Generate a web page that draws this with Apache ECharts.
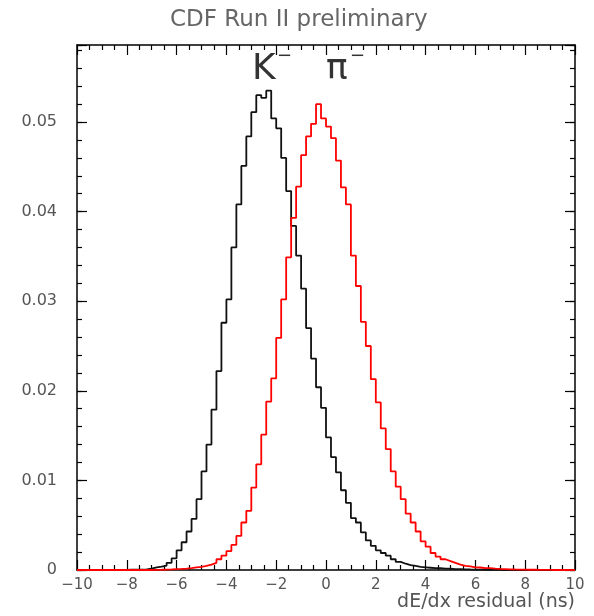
<!DOCTYPE html>
<html>
<head>
<meta charset="utf-8">
<title>dE/dx residual</title>
<script src="https://cdn.jsdelivr.net/npm/echarts@6/dist/echarts.min.js"></script>
</head>
<body style="margin:0;background:#fff">
<div id="main" style="width:594px;height:616px;"></div>
<script>
// 100 bins of 0.2 ns from -10 to 10
var binStart = -10, binWidth = 0.2, xMax = 10;
var kaon = [
  0, 0, 0, 0, 0, 0, 0, 0, 0, 0,
  0.00003, 0.00003, 0.00003, 0.00008, 0.00015, 0.0003, 0.00037, 0.0005, 0.0008, 0.0013,
  0.0022, 0.0031, 0.0043, 0.0057, 0.0079, 0.0110, 0.0140, 0.0179, 0.0222, 0.0276,
  0.0302, 0.0360, 0.0408, 0.0451, 0.0484, 0.0511, 0.0530, 0.0527, 0.0535, 0.0504,
  0.0493, 0.0460, 0.0423, 0.0384, 0.0351, 0.0314, 0.0270, 0.0236, 0.0204, 0.0181,
  0.0148, 0.0126, 0.0109, 0.0089, 0.0075, 0.0058, 0.0053, 0.0042, 0.0033, 0.0027,
  0.0022, 0.0019, 0.0016, 0.0012, 0.0009, 0.0007, 0.00055, 0.00045, 0.00035, 0.0003,
  0.00025, 0.0002, 0.0002, 0.00015, 0.00015, 0.0001, 0.0001, 0.00008, 0.00006, 0.00005,
  0.00004, 0.00003, 0.00003, 0.00002, 0.00002, 0, 0, 0, 0, 0,
  0, 0, 0, 0, 0, 0, 0, 0, 0, 0
];
var pion = [
  0, 0, 0, 0, 0, 0, 0, 0, 0, 0,
  0, 0, 0, 0, 0, 0.00002, 0.00003, 0.00005, 0.00007, 0.0001,
  0.00012, 0.00015, 0.0002, 0.0003, 0.00035, 0.00045, 0.0006, 0.0008, 0.0012, 0.0016,
  0.0021, 0.0028, 0.0038, 0.0053, 0.0066, 0.0092, 0.0118, 0.0151, 0.0188, 0.0214,
  0.0259, 0.0302, 0.0349, 0.0393, 0.0428, 0.0463, 0.0484, 0.0498, 0.0520, 0.0504,
  0.0495, 0.0482, 0.0457, 0.0427, 0.0408, 0.0351, 0.0317, 0.0277, 0.0250, 0.0213,
  0.0187, 0.0158, 0.0135, 0.0110, 0.0093, 0.0079, 0.0063, 0.0053, 0.0043, 0.0032,
  0.0026, 0.0019, 0.0015, 0.0012, 0.0010, 0.0008, 0.0006, 0.00045, 0.0004, 0.0003,
  0.00028, 0.0002, 0.0002, 0.00015, 0.00012, 0.0001, 0.00008, 0.00006, 0.00005, 0.00004,
  0.00003, 0.00003, 0.00002, 0.00002, 0.00001, 0, 0, 0, 0, 0
];
var yMax = 0.0586;

function stepPoints(vals) {
  var pts = [];
  for (var i = 0; i < vals.length; i++) {
    pts.push([binStart + i * binWidth, vals[i]]);
  }
  pts.push([xMax, vals[vals.length - 1]]);
  return pts;
}

var labelFont = 'DejaVu Sans';
var frame = { show: true, onZero: false, lineStyle: { color: '#000', width: 1.5 } };
var noLine = { show: false, onZero: false };

function xAx(pos, labels) {
  return {
    type: 'value', min: -10, max: 10, interval: 2, position: pos,
    axisLine: frame,
    axisTick: { show: true, inside: true, length: 10, lineStyle: { color: '#000', width: 1.2 } },
    minorTick: { show: true, splitNumber: 4, length: 5, lineStyle: { color: '#000', width: 1.2 } },
    splitLine: { show: false },
    axisLabel: {
      show: labels, margin: 8, color: '#555', fontSize: 15, fontFamily: labelFont,
      formatter: function (v) { return String(v).replace('-', '\u2212'); }
    }
  };
}
function yAx(pos, step, len, labels, line) {
  return {
    type: 'value', min: 0, max: yMax, interval: step, position: pos,
    axisLine: line ? frame : noLine,
    axisTick: { show: true, inside: true, length: len, lineStyle: { color: '#000', width: 1.2 } },
    splitLine: { show: false },
    axisLabel: {
      show: labels, margin: 20, color: '#555', fontSize: 16, fontFamily: labelFont,
      formatter: function (v) {
        if (v > 0.0555) return '';
        return v === 0 ? '0' : v.toFixed(2);
      }
    }
  };
}

var chart = echarts.init(document.getElementById('main'));
chart.setOption({
  animation: false,
  backgroundColor: '#fff',
  grid: { left: 77, right: 19, top: 45, bottom: 46 },
  xAxis: [xAx('bottom', true), xAx('top', false)],
  yAxis: [
    yAx('left', 0.01, 10, true, true),
    yAx('left', 0.002, 5, false, false),
    yAx('right', 0.01, 10, false, true),
    yAx('right', 0.002, 5, false, false)
  ],
  series: [
    {
      name: 'K-', type: 'line', step: 'end', data: stepPoints(kaon),
      showSymbol: false, symbol: 'none', clip: false,
      lineStyle: { color: '#111', width: 1.8 }
    },
    {
      name: 'pi-', type: 'line', step: 'end', data: stepPoints(pion),
      showSymbol: false, symbol: 'none', clip: false,
      lineStyle: { color: '#ff0000', width: 1.8 }
    }
  ],
  graphic: [
    { type: 'text', left: 170, top: 9,
      style: { text: 'CDF Run II preliminary', fill: '#666', font: '23px "DejaVu Sans"' } },
    { type: 'text', right: 19, top: 593,
      style: { text: 'dE/dx residual (ns)', fill: '#555', font: '19px "DejaVu Sans"' } },
    { type: 'text', left: 252, top: 52,
      style: { text: 'K', fill: '#333', font: '36px "DejaVu Sans"' } },
    { type: 'text', left: 277, top: 47,
      style: { text: '\u2212', fill: '#333', font: '18px "DejaVu Sans"' } },
    { type: 'text', left: 326, top: 52,
      style: { text: '\u03c0', fill: '#333', font: '36px "DejaVu Sans"' } },
    { type: 'text', left: 350, top: 47,
      style: { text: '\u2212', fill: '#333', font: '18px "DejaVu Sans"' } }
  ]
});
</script>
</body>
</html>
